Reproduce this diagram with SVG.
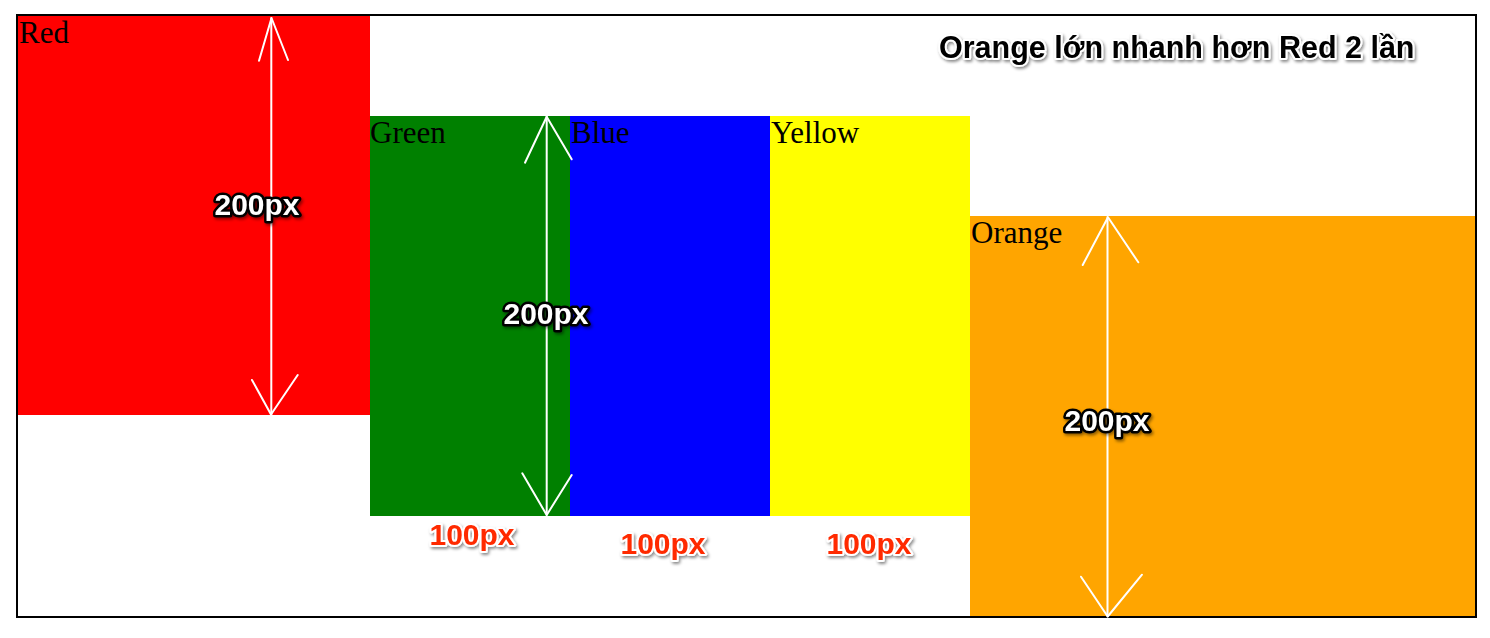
<svg xmlns="http://www.w3.org/2000/svg" width="1490" height="638" viewBox="0 0 1490 638">
<style>
.box-label{font-family:"Liberation Serif","Times New Roman",serif;font-size:31px;fill:#000}
.dim{font-family:"Liberation Sans",Arial,sans-serif;font-weight:bold;font-size:30px;text-anchor:middle}
.dim-v{fill:#fff;stroke:#000;stroke-width:5px;stroke-linejoin:round;paint-order:stroke}
.dim-h{fill:#ff2a00;stroke:#fff;stroke-width:4px;stroke-linejoin:round;paint-order:stroke}
.title{font-family:"Liberation Sans",Arial,sans-serif;font-weight:bold;font-size:30.5px;fill:#000;stroke:#fff;stroke-width:4px;stroke-linejoin:round;paint-order:stroke}
.arrow{fill:none;stroke:#fff;stroke-width:2px;stroke-linecap:round;stroke-linejoin:round}
</style>
<defs>
<filter id="shadow" x="-20%" y="-40%" width="140%" height="180%">
<feDropShadow dx="1.5" dy="2" stdDeviation="1.5" flood-color="#000" flood-opacity="0.45"/>
</filter>
</defs>
<rect x="0" y="0" width="1490" height="638" fill="#fff"/>
<rect id="frame" x="17" y="15" width="1459" height="602" fill="none" stroke="#000" stroke-width="2"/>
<g id="red">
<rect x="18" y="16" width="352" height="399" fill="#ff0000"/>
<text class="box-label" x="19" y="43">Red</text>
</g>
<g id="green">
<rect x="370" y="116" width="200" height="400" fill="#008000"/>
<text class="box-label" x="370" y="143">Green</text>
</g>
<g id="blue">
<rect x="570" y="116" width="200" height="400" fill="#0000ff"/>
<text class="box-label" x="571" y="143">Blue</text>
</g>
<g id="yellow">
<rect x="770" y="116" width="200" height="400" fill="#ffff00"/>
<text class="box-label" x="771" y="143">Yellow</text>
</g>
<g id="orange">
<rect x="970" y="216" width="505" height="400" fill="#ffa500"/>
<text class="box-label" x="971" y="243">Orange</text>
</g>
<g id="connectors">
<line class="arrow" x1="271.3" y1="18" x2="271.3" y2="415"/>
<path class="arrow" d="M259,60.7 L271.5,18 L288,60"/>
<path class="arrow" d="M252,380 L271,414.5 L297.7,375"/>
<line class="arrow" x1="546.7" y1="116.5" x2="546.7" y2="515"/>
<path class="arrow" d="M525,162.7 L546.7,116.7 L571.7,159.3"/>
<path class="arrow" d="M522.3,473.3 L546.7,515 L571.7,475"/>
<line class="arrow" x1="1107.5" y1="217" x2="1107.5" y2="616.5"/>
<path class="arrow" d="M1082.7,265 L1108,217.3 L1138.3,262.3"/>
<path class="arrow" d="M1081,576.7 L1107.7,616.5 L1142,574.7"/>
</g>
<g id="labels" filter="url(#shadow)">
<text class="dim dim-v" x="257" y="215">200px</text>
<text class="dim dim-v" x="546" y="324">200px</text>
<text class="dim dim-v" x="1107" y="431">200px</text>
<text class="dim dim-h" x="472" y="545">100px</text>
<text class="dim dim-h" x="663" y="554">100px</text>
<text class="dim dim-h" x="869" y="554">100px</text>
</g>
<g id="title" filter="url(#shadow)">
<text class="title" x="939" y="58">Orange lớn nhanh hơn Red 2 lần</text>
</g>
</svg>
